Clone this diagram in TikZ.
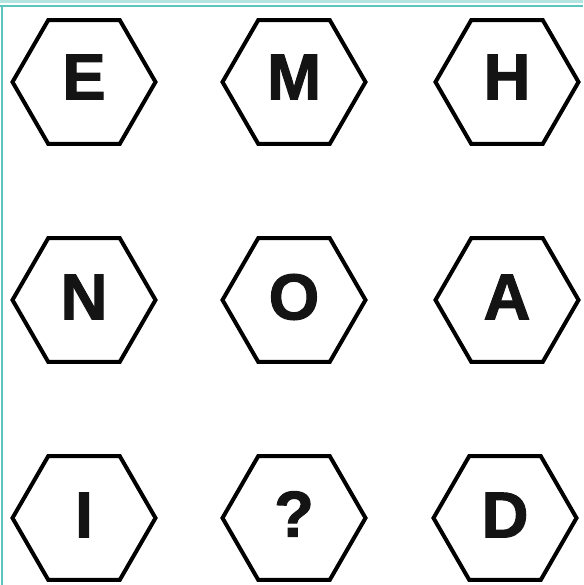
\documentclass[tikz,border=0pt]{standalone}
\usepackage{fontspec}
\setmainfont{Liberation Sans}
\newfontfamily\heavyfont[FakeBold=1.6]{Liberation Sans Bold}
\usetikzlibrary{shapes.geometric}
\definecolor{tealline}{HTML}{5CC6BE}
\definecolor{teallight}{HTML}{B4E4DF}
\begin{document}
\begin{tikzpicture}[x=1pt,y=-1pt,
  hex/.style={regular polygon, regular polygon sides=6, minimum size=143pt,
    inner sep=0pt, draw=black, line width=4pt, line join=miter},
  letter/.style={font=\fontsize{65}{70}\heavyfont, inner sep=0pt, text=black!92}]
\useasboundingbox (0,0) rectangle (583,585);
\fill[white] (0,0) rectangle (583,585);
% frame
\fill[teallight] (0,0) rectangle (583,3);
\draw[tealline, line width=2pt] (0,6) -- (583,6);
\draw[tealline, line width=2.5pt] (2,5) -- (2,585);
% hexagons
\node[hex] (h11) at (84,82) {};
\node[hex] (h12) at (294,82) {};
\node[hex] (h13) at (507,82) {};
\node[hex] (h21) at (84,300) {};
\node[hex] (h22) at (294,300) {};
\node[hex] (h23) at (507,300) {};
\node[hex] (h31) at (84,518) {};
\node[hex] (h32) at (294,518) {};
\node[hex] (h33) at (505,518) {};
% letters
\node[letter] (l11) at ([yshift=5pt]h11.center) {E};
\node[letter] (l12) at ([yshift=5pt]h12.center) {M};
\node[letter] (l13) at ([yshift=5pt]h13.center) {H};
\node[letter] (l21) at ([yshift=3pt]h21.center) {N};
\node[letter] (l22) at ([yshift=3pt]h22.center) {O};
\node[letter] (l23) at ([yshift=3pt]h23.center) {A};
\node[letter] (l31) at ([yshift=3pt]h31.center) {I};
\node[letter] (l32) at ([yshift=4pt]h32.center) {?};
\node[letter] (l33) at ([yshift=3pt]h33.center) {D};
\end{tikzpicture}
\end{document}
